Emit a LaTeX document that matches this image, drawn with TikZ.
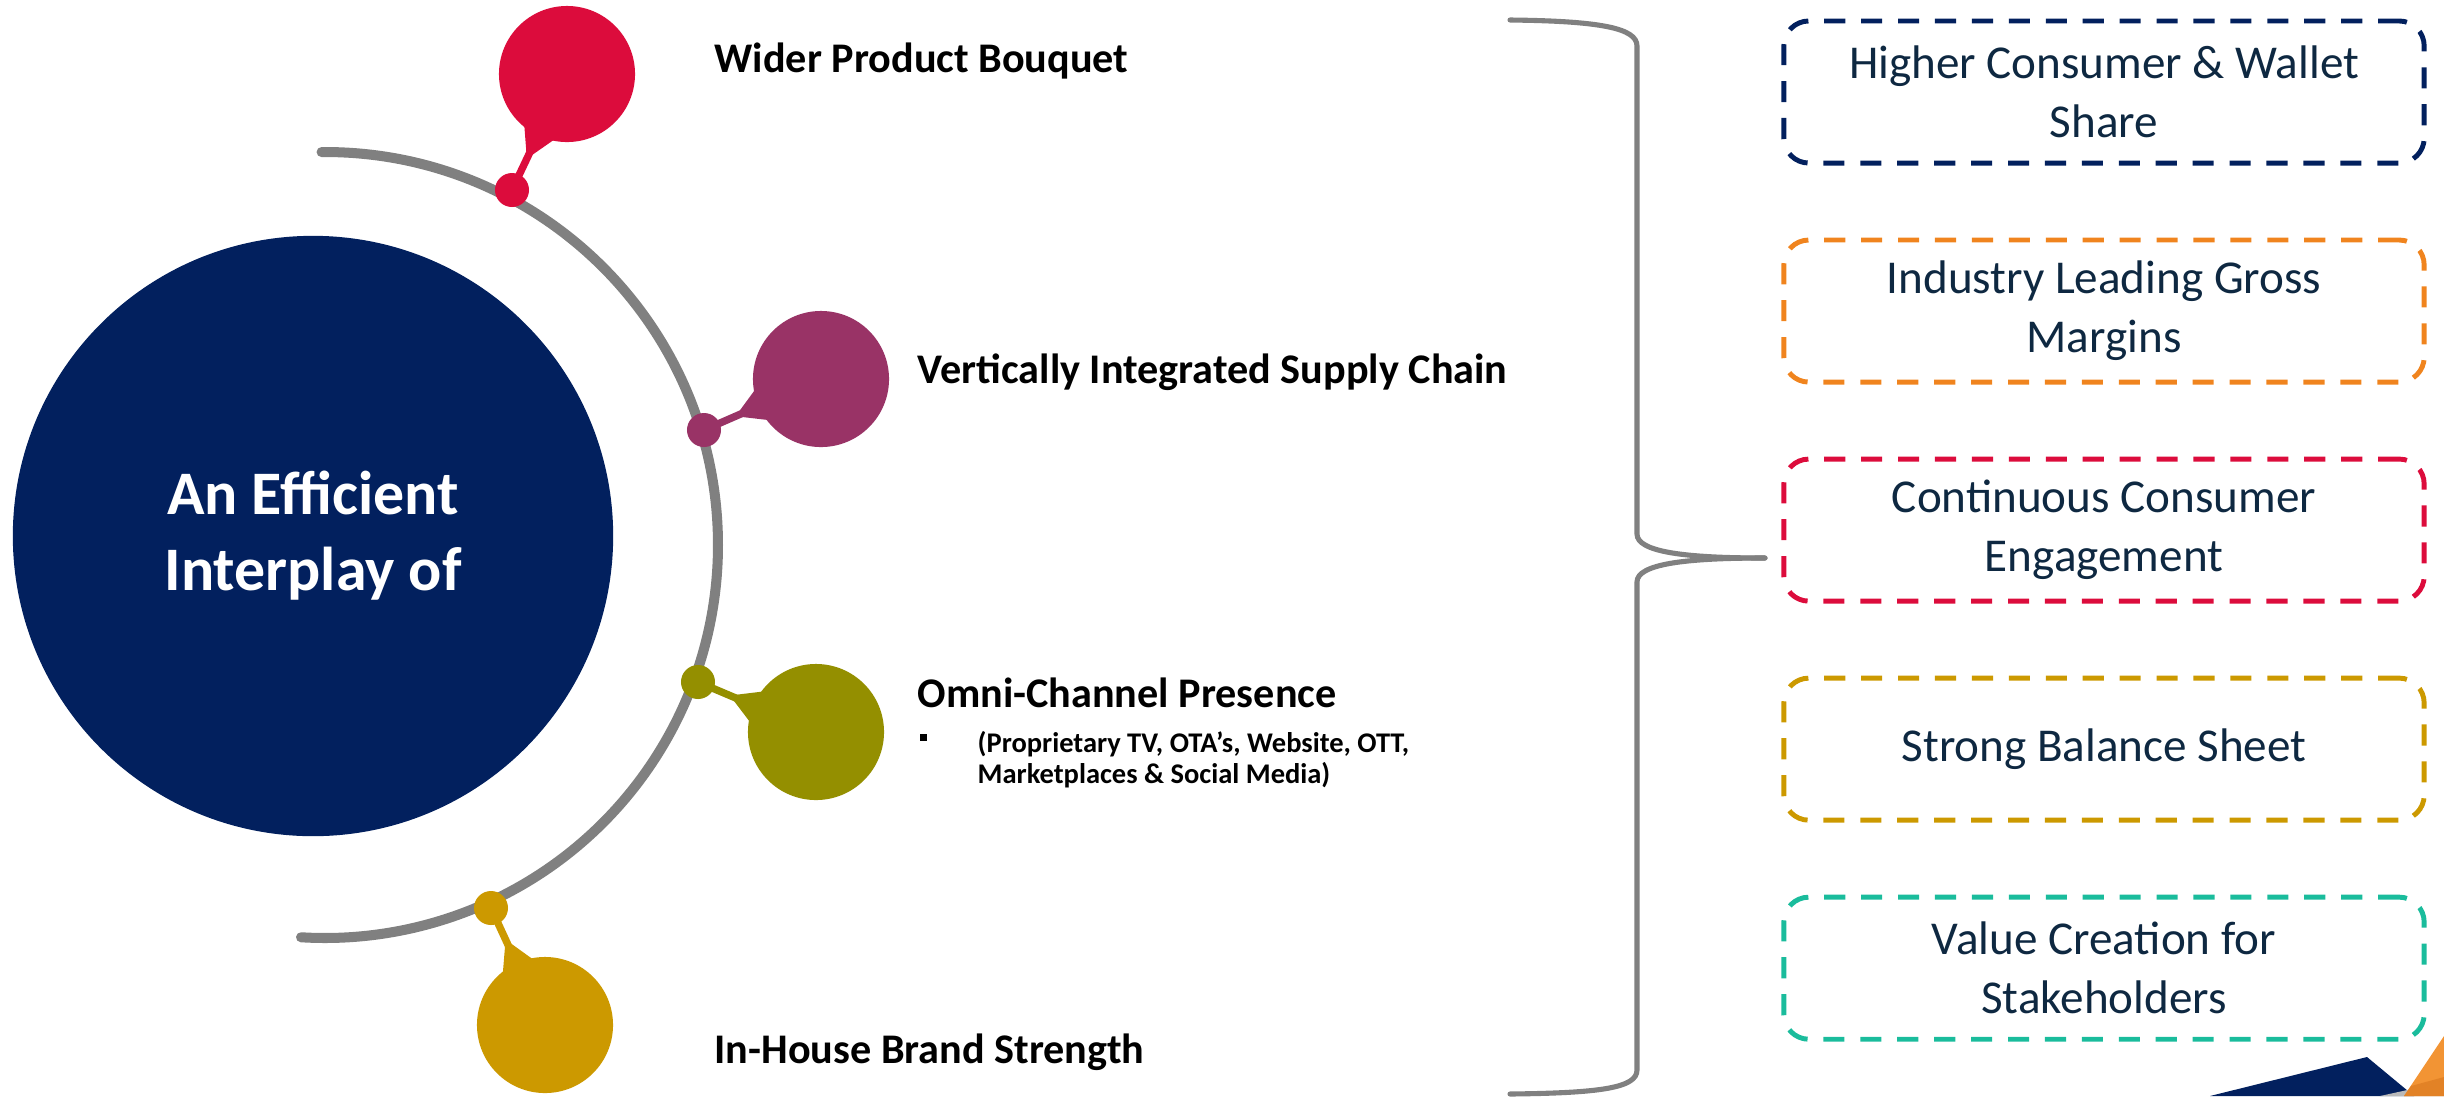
\documentclass[tikz,border=0pt]{standalone}
\usepackage{fontspec}
\setmainfont{Carlito}
\usetikzlibrary{calc,positioning}

\definecolor{navy}{RGB}{2,32,94}
\definecolor{crimson}{RGB}{220,12,60}
\definecolor{plum}{RGB}{153,51,102}
\definecolor{moss}{RGB}{148,143,0}
\definecolor{mustard}{RGB}{204,153,0}
\definecolor{tangerine}{RGB}{240,132,30}
\definecolor{jade}{RGB}{26,188,156}
\definecolor{inkblue}{RGB}{14,40,65}
\definecolor{rimgray}{RGB}{128,128,128}
\definecolor{peel}{RGB}{242,148,52}
\definecolor{peeldark}{RGB}{226,130,38}

\tikzset{
  balloon/.style={circle, fill=#1, inner sep=0pt, minimum size=1.36cm},
  knot/.style={circle, fill=#1, inner sep=0pt, minimum size=0.34cm},
  pillar/.style={anchor=base west, inner sep=0pt, font=\bfseries\fontsize{12}{14}\selectfont},
  outcome/.style={draw=#1, line width=1.4pt, dash pattern=on 6pt off 4.5pt,
    rounded corners=0.25cm, minimum width=6.4cm, minimum height=1.42cm,
    align=center, text=inkblue, font=\fontsize{13.4}{16.8}\selectfont},
  brace/.style={draw=rimgray, line width=1.45pt, line cap=round},
}

% neck between a knot on the ring and its balloon
\newcommand{\balloonneck}[3]{%
  \draw[#3, line width=2.1pt] (#1.center) -- ($(#1)!0.33!(#2)$);
  \fill[#3] ($(#1)!0.27!(#2)$) -- ($(#2)!0.66cm!15:(#1)$) -- (#2.center)
    -- ($(#2)!0.66cm!-15:(#1)$) -- cycle;
}

\begin{document}
\begin{tikzpicture}[x=0.01cm, y=-0.01cm]
  \useasboundingbox (0,0) rectangle (2444,1096);

  % centre disc
  \node [circle, fill=navy, inner sep=0pt, minimum size=6cm, text=white, align=center,
    font=\bfseries\fontsize{17.6}{21.6}\selectfont] (core) at (313,536) {An Efficient\\Interplay of};

  % grey ring
  \coordinate (hub) at (325,545);
  \draw [rimgray, line width=2.85pt, line cap=round] (hub) ++(-90.5:393) arc (-90.5:93.5:393);

  % balloons
  \node [balloon=crimson] (bouquet) at (567,74) {};
  \node [balloon=plum] (chain) at (821,379) {};
  \node [balloon=moss] (omni) at (816,732) {};
  \node [balloon=mustard] (brand) at (545,1025) {};

  \node [knot=crimson] (bouquet-k) at (512,190) {};
  \node [knot=plum] (chain-k) at (704,430) {};
  \node [knot=moss] (omni-k) at (698,682) {};
  \node [knot=mustard] (brand-k) at (491,908) {};

  \balloonneck{bouquet-k}{bouquet}{crimson}
  \balloonneck{chain-k}{chain}{plum}
  \balloonneck{omni-k}{omni}{moss}
  \balloonneck{brand-k}{brand}{mustard}

  % labels
  \node [pillar] (bouquet-t) at (714,72) {Wider Product Bouquet};
  \node [pillar] (chain-t) at (917,383) {Vertically Integrated Supply Chain};
  \node [pillar] (omni-t) at (917,707) {Omni-Channel Presence};
  \node [pillar] (brand-t) at (714,1063) {In-House Brand Strength};
  \node [fill=black, inner sep=0pt, minimum size=0.07cm] (omni-b) at (923,737) {};
  \node [anchor=base west, inner sep=0pt, align=left,
    font=\bfseries\fontsize{8.1}{8.6}\selectfont] (omni-s) at (977,783)
    {(Proprietary TV, OTA’s, Website, OTT,\\Marketplaces \& Social Media)};

  % brace
  \coordinate (tip) at (1765,558);
  \draw [brace] (1510,20) .. controls (1600,21) and (1637,28) .. (1637,46)
    -- (1637,534) .. controls (1637,552) and (1685,558) .. (tip);
  \draw [brace] (tip) .. controls (1685,558) and (1637,564) .. (1637,582)
    -- (1637,1070) .. controls (1637,1088) and (1600,1093) .. (1510,1094);

  % outcomes
  \node [outcome=navy] (share) at (2104,92) {Higher Consumer \& Wallet\\Share};
  \node [outcome=tangerine, below=0.72cm of share] (margins) {Industry Leading Gross\\Margins};
  \node [outcome=crimson, below=0.72cm of margins] (engage) {Continuous Consumer\\Engagement};
  \node [outcome=mustard, below=0.72cm of engage] (sheet) {Strong Balance Sheet};
  \node [outcome=jade, below=0.72cm of sheet] (value) {Value Creation for\\Stakeholders};

  % corner shards
  \fill [navy] (2210,1096) -- (2367,1057) -- (2414,1096) -- cycle;
  \fill [gray!55] (2380,1096) -- (2444,1082) -- (2444,1096) -- cycle;
  \fill [peel] (2404,1096) -- (2444,1036) -- (2444,1096) -- cycle;
  \fill [peeldark] (2411,1086) -- (2444,1077) -- (2444,1096) -- (2404,1096) -- cycle;
\end{tikzpicture}
\end{document}
